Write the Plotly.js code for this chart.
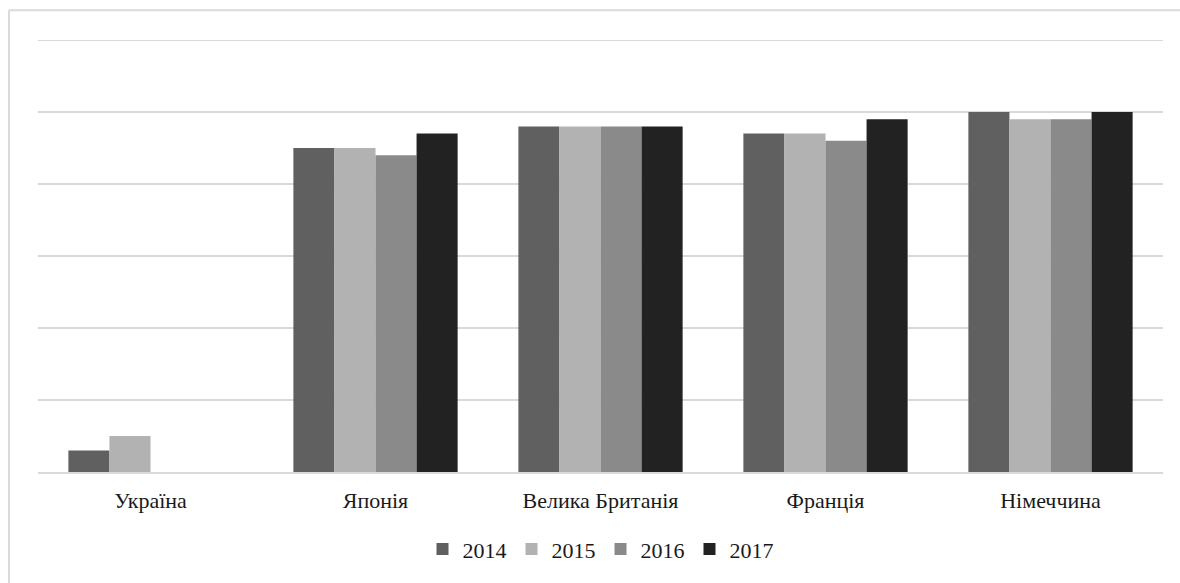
<!DOCTYPE html>
<html>
<head>
<meta charset="utf-8">
<script src="https://cdn.plot.ly/plotly-3.0.1.min.js"></script>
<style>
html,body{margin:0;padding:0;background:#fff;overflow:hidden;}
#chart{width:1180px;height:583px;}
</style>
</head>
<body>
<div id="chart"></div>
<script>
const categories = ["Україна", "Японія", "Велика Британія", "Франція", "Німеччина"];
const years = ["2014", "2015", "2016", "2017"];
const v2014 = [0.3, 4.5, 4.8, 4.7, 5.0];
const v2015 = [0.5, 4.5, 4.8, 4.7, 4.9];
const v2016 = [null, 4.4, 4.8, 4.6, 4.9];
const v2017 = [null, 4.7, 4.8, 4.9, 5.0];
const colors = ["#606060", "#b2b2b2", "#8a8a8a", "#222222"];
const series = [v2014, v2015, v2016, v2017];
const yMax = 6;

const traces = series.map((vals, i) => ({
  type: "bar",
  name: years[i],
  x: categories,
  y: vals,
  marker: {color: colors[i], line: {width: 0}},
  hoverinfo: "x+y+name"
}));

const serif = "Times New Roman, Liberation Serif, serif";

const layout = {
  width: 1180, height: 583,
  margin: {l: 38, r: 17, t: 40, b: 111},
  paper_bgcolor: "#ffffff",
  plot_bgcolor: "#ffffff",
  font: {family: serif, size: 22, color: "#1a1a1a"},
  barmode: "group",
  bargap: 0.27,
  bargroupgap: 0,
  xaxis: {
    showgrid: false, zeroline: false, showline: true, linecolor: "#d9d9d9", linewidth: 2,
    ticks: "", ticklabelstandoff: 8,
    tickfont: {family: serif, size: 22, color: "#1a1a1a"}
  },
  yaxis: {
    range: [0, yMax], dtick: 1, showticklabels: false, ticks: "",
    showgrid: true, gridcolor: "#d9d9d9", gridwidth: 2, zeroline: false, showline: false
  },
  shapes: [
    {type: "line", xref: "paper", yref: "y", x0: 0, x1: 1, y0: yMax, y1: yMax,
     line: {color: "#d9d9d9", width: 2}, layer: "below"},
    {type: "line", xref: "paper", yref: "paper", x0: -0.0258, x1: 1.05, y0: 1.069, y1: 1.069,
     line: {color: "#d9d9d9", width: 2}, layer: "below"},
    {type: "line", xref: "paper", yref: "paper", x0: -0.0258, x1: -0.0258, y0: 1.069, y1: -0.3,
     line: {color: "#d9d9d9", width: 2}, layer: "below"}
  ],
  legend: {
    orientation: "h", x: 0.5, xanchor: "center", y: -0.13, yanchor: "top",
    font: {family: serif, size: 22, color: "#1a1a1a"}, itemwidth: 30, traceorder: "normal"
  },
  showlegend: true
};

Plotly.newPlot("chart", traces, layout, {displayModeBar: false});
</script>
</body>
</html>
